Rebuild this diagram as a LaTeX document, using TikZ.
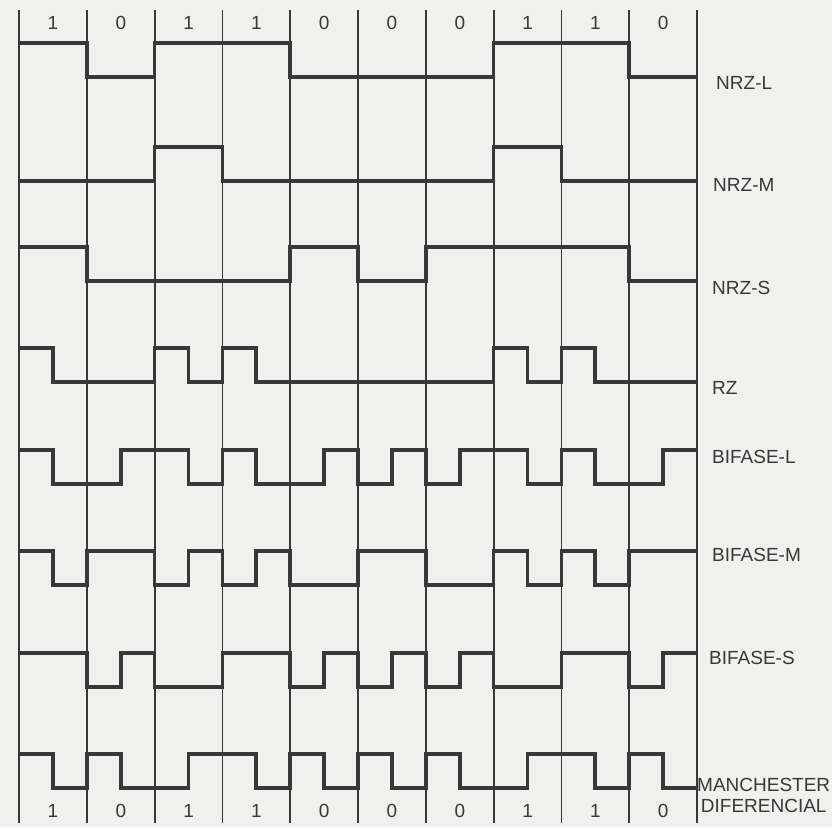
\documentclass[tikz,border=0pt]{standalone}
\usepackage{fontspec}
\setmainfont{Liberation Sans}
\usepackage{tikz}
\usetikzlibrary{positioning}
\definecolor{scan-bg}{HTML}{F0F0EE}
\definecolor{scan-ink}{HTML}{383838}

\newcommand{\signal}[3]{%
  \draw[wave] (19,{#1+(1-#2)*34})
    \foreach \l [count=\i from 0] in {#3} {
      -- ({19+\i*33.9},{#1+(1-\l)*34}) -- ({19+(\i+1)*33.9},{#1+(1-\l)*34})
    };}

\begin{document}
\begin{tikzpicture}[x=1pt, y=-1pt,
    grid/.style={scan-ink, line width=1.8pt},
    wave/.style={scan-ink, line width=3.7pt, line join=miter},
    lbl/.style={anchor=west, inner sep=0pt, text=scan-ink, font=\fontsize{19}{21}\selectfont},
    bit/.style={inner sep=0pt, text=scan-ink, font=\fontsize{19}{21}\selectfont},
]
    \fill[scan-bg] (0,0) rectangle (832,827);
    \useasboundingbox (0,0) rectangle (832,827);

    \foreach \k in {0,...,10}
        \draw[grid] ({19+\k*67.8},10) -- ({19+\k*67.8},823);
    \foreach \b [count=\k from 0] in {1,0,1,1,0,0,0,1,1,0} {
        \node[bit] (top\k) at ({53+\k*67.8},23) {\b};
        \node[bit] (bot\k) at ({53+\k*67.8},811) {\b};
    }

    \signal{43}{1}{1,1,0,0,1,1,1,1,0,0,0,0,0,0,1,1,1,1,0,0}
    \signal{147}{0}{0,0,0,0,1,1,0,0,0,0,0,0,0,0,1,1,0,0,0,0}
    \signal{247}{1}{1,1,0,0,0,0,0,0,1,1,0,0,1,1,1,1,1,1,0,0}
    \signal{348}{1}{1,0,0,0,1,0,1,0,0,0,0,0,0,0,1,0,1,0,0,0}
    \signal{450}{1}{1,0,0,1,1,0,1,0,0,1,0,1,0,1,1,0,1,0,0,1}
    \signal{551}{1}{1,0,1,1,0,1,0,1,0,0,1,1,0,0,1,0,1,0,1,1}
    \signal{653}{1}{1,1,0,1,0,0,1,1,0,1,0,1,0,1,0,0,1,1,0,1}
    \signal{754}{1}{1,0,1,0,0,1,1,0,1,0,1,0,1,0,0,1,1,0,1,0}

    \node[lbl] (nrzl) at (716,83)  {NRZ-L};
    \node[lbl] (nrzm) at (713,185) {NRZ-M};
    \node[lbl] (nrzs) at (712,288) {NRZ-S};
    \node[lbl] (rz)   at (712,388) {RZ};
    \node[lbl] (bifl) at (712,457) {BIFASE-L};
    \node[lbl] (bifm) at (712,555) {BIFASE-M};
    \node[lbl] (bifs) at (709,658) {BIFASE-S};
    \node[lbl, align=center] (mand) at (697,795) {MANCHESTER\\DIFERENCIAL};
\end{tikzpicture}
\end{document}
